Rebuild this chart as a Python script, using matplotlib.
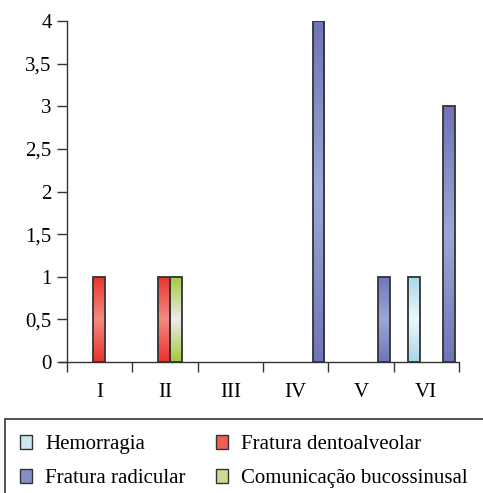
import numpy as np
import matplotlib
matplotlib.use("Agg")
import matplotlib.pyplot as plt
from matplotlib.colors import LinearSegmentedColormap, to_rgb
from matplotlib.patches import Rectangle

# dados
categorias = ["I", "II", "III", "IV", "V", "VI"]
hemorragia = [0, 0, 0, 0, 0, 1]
fratura_dentoalveolar = [1, 1, 0, 0, 0, 0]
comunicacao = [0, 1, 0, 0, 0, 0]
fratura_radicular = [0, 0, 0, 4, 1, 3]
yticks = [0, 0.5, 1, 1.5, 2, 2.5, 3, 3.5, 4]
ytick_labels = ["0", "0,5", "1", "1,5", "2", "2,5", "3", "3,5", "4"]

series = [
    ("Hemorragia", hemorragia, "#a6d6e7", "#eef8fd"),
    ("Fratura dentoalveolar", fratura_dentoalveolar, "#e8322b", "#f38b82"),
    ("Comunicação bucossinusal", comunicacao, "#a3c93a", "#ececec"),
    ("Fratura radicular", fratura_radicular, "#6f74b6", "#9ca8d8"),
]
legend_order = [0, 3, 1, 2]  # preenche por coluna

plt.rcParams['font.family'] = ['Liberation Serif', 'DejaVu Serif']
fs = 15

fig = plt.figure(figsize=(4.83, 4.93), dpi=100)
ax = fig.add_axes([0.1387, 0.2657, 0.8116, 0.6917])

x = np.arange(len(categorias))
w = 0.18
edge = "#333333"
for k, (nome, vals, dark, light) in enumerate(series):
    cmap = LinearSegmentedColormap.from_list(nome, [dark, light, dark])
    grad = np.linspace(0, 1, 256).reshape(-1, 1)
    pos = x + (k - 1) * w - 0.01
    alturas = np.where(np.array(vals) == 0, np.nan, vals)
    bars = ax.bar(pos, alturas, width=w, facecolor="none", edgecolor=edge,
                  linewidth=1.3, zorder=3)
    for b, v in zip(bars, vals):
        if v == 0:
            continue
        im = ax.imshow(grad, cmap=cmap, aspect="auto", origin="lower",
                       extent=(b.get_x(), b.get_x() + b.get_width(), 0, v),
                       zorder=2)
        im.set_clip_path(b)

ax.set_xlim(-0.5, len(categorias) - 0.5)
ax.set_ylim(0, 4)
ax.set_yticks(yticks)
ax.set_yticklabels(ytick_labels, fontsize=fs)
ax.set_xticks(x)
ax.set_xticklabels(categorias, fontsize=fs)
ax.set_xticks(np.arange(len(categorias) + 1) - 0.5, minor=True)
ax.tick_params(axis="x", which="major", length=0, pad=15)
ax.tick_params(axis="x", which="minor", length=7, width=1, color=edge, direction="out")
ax.tick_params(axis="y", length=7, width=1, color=edge, direction="out", pad=4)
for s in ["top", "right"]:
    ax.spines[s].set_visible(False)
for s in ["left", "bottom"]:
    ax.spines[s].set_color(edge)
    ax.spines[s].set_linewidth(1)
ax.spines["bottom"].set_bounds(-0.5 - 7 / 65.3, len(categorias) - 0.5)

# legenda
fig.patches.append(Rectangle((5 / 483, -0.01), 1.0, 1 - 419 / 493 + 0.01,
                             transform=fig.transFigure, fill=False,
                             edgecolor=edge, linewidth=1.2))
handles, labels = [], []
for i in legend_order:
    nome, vals, dark, light = series[i]
    mid = tuple((np.array(to_rgb(dark)) + np.array(to_rgb(light))) / 2)
    handles.append(Rectangle((0, 0), 1, 1, facecolor=mid, edgecolor=edge, linewidth=1))
    labels.append(nome)
fig.legend(handles, labels, ncol=2, loc="upper left", bbox_to_anchor=(0.024, 0.134),
           frameon=False, fontsize=fs, handlelength=0.6, handleheight=0.6,
           handletextpad=0.6, labelspacing=0.72, columnspacing=1.45, borderaxespad=0)

fig.savefig("out.png", dpi=100)
